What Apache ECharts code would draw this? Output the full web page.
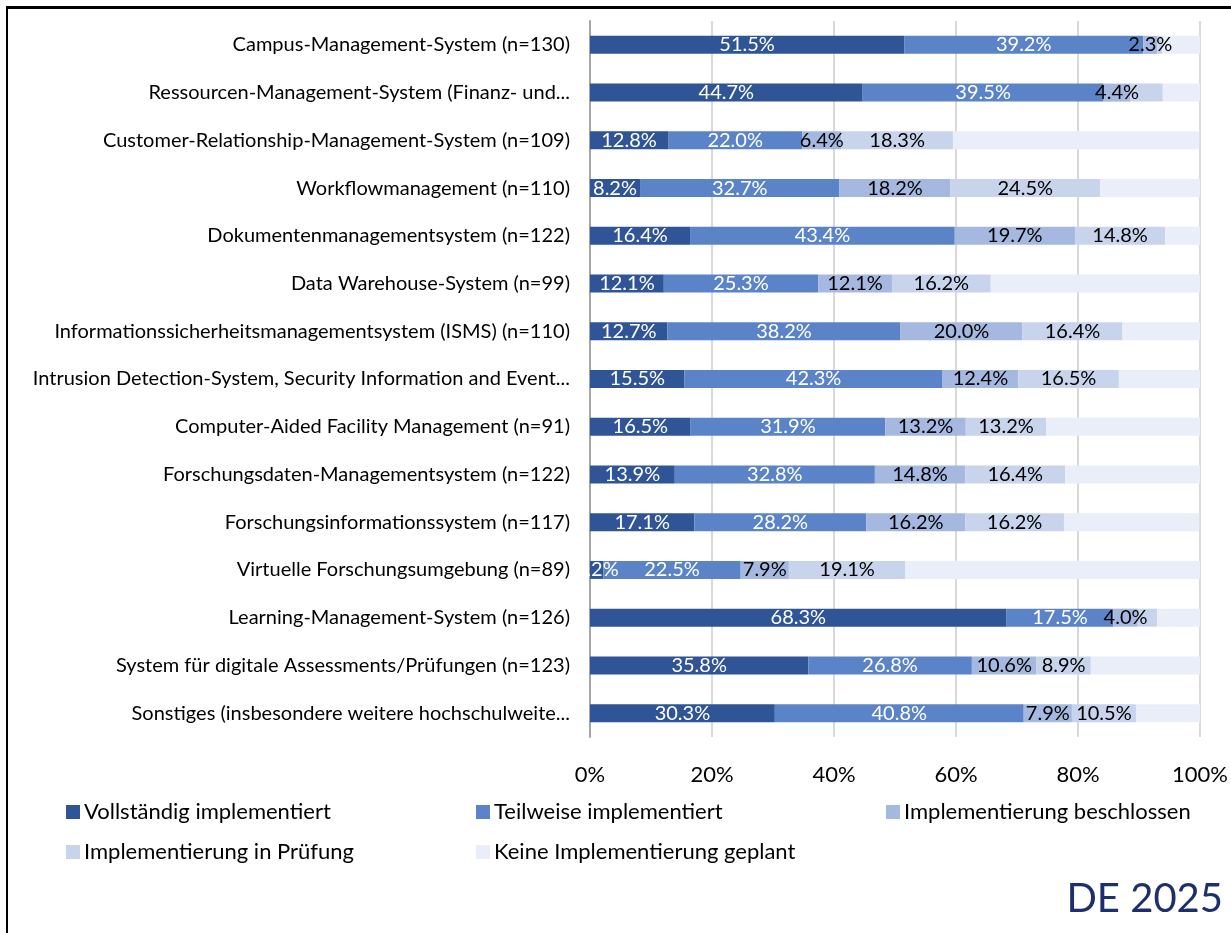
<!DOCTYPE html>
<html>
<head>
<meta charset="utf-8">
<script src="https://cdn.jsdelivr.net/npm/echarts@6/dist/echarts.min.js"></script>
<style>
html,body{margin:0;padding:0;background:#fff;}
#chart{width:1231px;height:933px;}
</style>
</head>
<body>
<div id="chart"></div>
<script>
const categories = [
  "Campus-Management-System (n=130)",
  "Ressourcen-Management-System (Finanz- und...",
  "Customer-Relationship-Management-System (n=109)",
  "Workflowmanagement (n=110)",
  "Dokumentenmanagementsystem (n=122)",
  "Data Warehouse-System (n=99)",
  "Informationssicherheitsmanagementsystem (ISMS) (n=110)",
  "Intrusion Detection-System, Security Information and Event...",
  "Computer-Aided Facility Management (n=91)",
  "Forschungsdaten-Managementsystem (n=122)",
  "Forschungsinformationssystem (n=117)",
  "Virtuelle Forschungsumgebung (n=89)",
  "Learning-Management-System (n=126)",
  "System für digitale Assessments/Prüfungen (n=123)",
  "Sonstiges (insbesondere weitere hochschulweite..."
];
const seriesNames = [
  "Vollständig implementiert",
  "Teilweise implementiert",
  "Implementierung beschlossen",
  "Implementierung in Prüfung",
  "Keine Implementierung geplant"
];
const vollstaendig = [51.5, 44.7, 12.8, 8.2, 16.4, 12.1, 12.7, 15.5, 16.5, 13.9, 17.1, 2.2, 68.3, 35.8, 30.3];
const teilweise    = [39.2, 39.5, 22.0, 32.7, 43.4, 25.3, 38.2, 42.3, 31.9, 32.8, 28.2, 22.5, 17.5, 26.8, 40.8];
const beschlossen  = [2.3, 4.4, 6.4, 18.2, 19.7, 12.1, 20.0, 12.4, 13.2, 14.8, 16.2, 7.9, 4.0, 10.6, 7.9];
const pruefung     = [0.8, 5.3, 18.3, 24.5, 14.8, 16.2, 16.4, 16.5, 13.2, 16.4, 16.2, 19.1, 3.2, 8.9, 10.5];
const keine        = [6.2, 6.1, 40.4, 16.4, 5.7, 34.3, 12.7, 13.4, 25.3, 22.1, 22.2, 48.3, 7.1, 17.9, 10.5];
const xTicks = [0, 20, 40, 60, 80, 100];

const colors = ["#2F5597", "#5B84C8", "#A5B8E0", "#C7D4EC", "#E9EEF8"];
const values = [vollstaendig, teilweise, beschlossen, pruefung, keine];
const labelColors = ["#FFFFFF", "#FFFFFF", "#000000", "#000000", "#000000"];
const FONT = "Lato";

const series = seriesNames.map((name, si) => ({
  name: name,
  type: "bar",
  stack: "total",
  barWidth: 18,
  itemStyle: { color: colors[si] },
  emphasis: { disabled: true },
  label: {
    show: si < 4,
    position: "inside",
    color: labelColors[si],
    fontFamily: FONT,
    fontSize: 20,
    formatter: function (p) {
      if (si === 3) {
        // label hidden where it would collide with the preceding label
        const prev = beschlossen[p.dataIndex];
        if ((prev + p.value) / 2 < 7) return "";
      }
      return p.value.toFixed(1) + "%";
    }
  },
  data: values[si]
}));

const legendPos = [
  { left: 61, top: 796 },
  { left: 471, top: 796 },
  { left: 881, top: 796 },
  { left: 61, top: 836 },
  { left: 471, top: 836 }
];
const legends = seriesNames.map((n, i) => ({
  data: [n],
  left: legendPos[i].left,
  top: legendPos[i].top,
  itemWidth: 14,
  itemHeight: 14,
  itemGap: 0,
  icon: "rect",
  selectedMode: false,
  textStyle: { fontFamily: FONT, fontSize: 22, color: "#000", padding: [0, 0, 0, -1] }
}));

const chart = echarts.init(document.getElementById("chart"), null, { renderer: "canvas" });
chart.setOption({
  animation: false,
  backgroundColor: "#fff",
  color: colors,
  grid: { left: 590, right: 31, top: 21, bottom: 196, containLabel: false },
  xAxis: {
    type: "value",
    min: 0,
    max: 100,
    interval: 20,
    axisLine: { show: false },
    axisTick: { show: false },
    splitLine: { show: true, lineStyle: { color: "#D9D9D9", width: 2 } },
    axisLabel: {
      margin: 27,
      fontFamily: FONT,
      fontSize: 22,
      color: "#000",
      formatter: function (v) { return xTicks.indexOf(v) >= 0 ? v + "%" : ""; }
    }
  },
  yAxis: {
    type: "category",
    inverse: true,
    data: categories,
    axisLine: { show: true, lineStyle: { color: "#A6A6A6", width: 2 } },
    axisTick: { show: false },
    axisLabel: { margin: 20, fontFamily: FONT, fontSize: 20, color: "#000" }
  },
  legend: legends,
  title: {
    text: "DE 2025",
    right: 3,
    top: 874,
    textStyle: { fontFamily: FONT, fontSize: 40, fontWeight: "normal", color: "#1F2F6E" }
  },
  graphic: [
    { type: "line", shape: { x1: 6, y1: 7.5, x2: 1231, y2: 7.5 }, style: { stroke: "#000", lineWidth: 3 }, silent: true },
    { type: "line", shape: { x1: 7, y1: 6, x2: 7, y2: 933 }, style: { stroke: "#000", lineWidth: 2 }, silent: true }
  ],
  series: series
});
</script>
</body>
</html>
